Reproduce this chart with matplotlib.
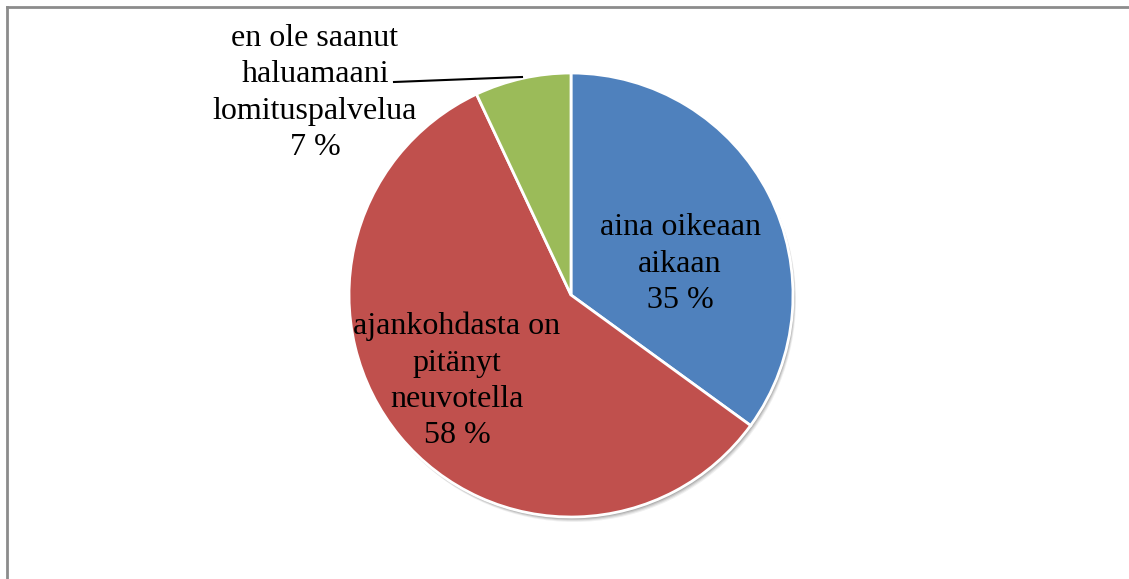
import matplotlib.pyplot as plt
from matplotlib.patches import Circle
from matplotlib.lines import Line2D

# Data
labels = ["aina oikeaan\naikaan", "ajankohdasta on\npitänyt\nneuvotella",
          "en ole saanut\nhaluamaani\nlomituspalvelua"]
values = [35, 58, 7]
colors = ["#4F81BD", "#C0504D", "#9BBB59"]

W, H = 1129, 579
CX, CY, R = 571, H - 295, 222

fig = plt.figure(figsize=(W / 100, H / 100), dpi=100)
ax = fig.add_axes([0, 0, 1, 1])

# 1: soft drop shadow behind the pie
for off, alpha in [(5, 0.06), (4, 0.08), (3, 0.10), (2, 0.12)]:
    ax.add_patch(Circle((CX + off * 0.6, CY - off), R, color="black",
                        alpha=alpha, lw=0, zorder=0))

# 2: pie, clockwise from the top
wedges, _ = ax.pie(values, colors=colors, startangle=90, counterclock=False,
                   center=(CX, CY), radius=R,
                   wedgeprops=dict(edgecolor="white", linewidth=2))
for w in wedges:
    w.set_zorder(1)

# 3: labels
font = dict(family="Liberation Serif", fontsize=23, color="black",
            ha="center", va="center", linespacing=1.33, zorder=3)
ax.text(680, H - 264, f"{labels[0]}\n{values[0]} %", **font)
ax.text(457, H - 381, f"{labels[1]}\n{values[1]} %", **font)
ax.text(315, H - 93, f"{labels[2]}\n{values[2]} %", **font)

# 4: leader line for the small slice
ax.add_line(Line2D([394, 522], [H - 82, H - 77], color="black", lw=1.5,
                   zorder=3))

# 5: chart frame (only top and left edges visible in the crop)
ax.add_line(Line2D([6.5, W], [H - 6.5, H - 6.5], color="#8c8c8c", lw=2,
                   zorder=4))
ax.add_line(Line2D([6.5, 6.5], [0, H - 6.5], color="#8c8c8c", lw=2,
                   zorder=4))

ax.set_xlim(0, W)
ax.set_ylim(0, H)
ax.set_aspect("auto")
ax.axis("off")

fig.savefig("out.png", dpi=100, facecolor="white")
